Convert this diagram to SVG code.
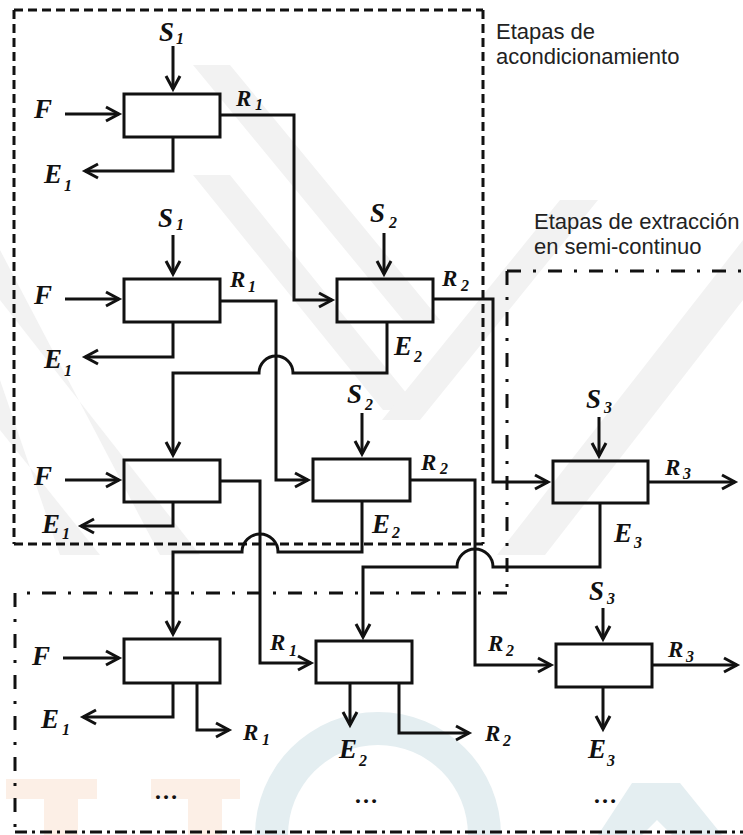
<svg xmlns="http://www.w3.org/2000/svg" width="743" height="835" viewBox="0 0 743 835">
  <style>
    .ln { fill: none; stroke: #111; stroke-width: 3; stroke-linejoin: miter; }
    .arr { marker-end: url(#arrow); }
    .box { fill: none; stroke: #111; stroke-width: 3; }
    .dash { fill: none; stroke: #111; stroke-width: 3; stroke-dasharray: 9 5; }
    .dashdot { fill: none; stroke: #111; stroke-width: 3; stroke-dasharray: 14 12 3 12; }
    .dashdot2 { fill: none; stroke: #111; stroke-width: 3; stroke-dasharray: 12 5 3 5; }
    .lbl { font-family: "Liberation Serif", "Times New Roman", serif; font-weight: bold; font-style: italic; font-size: 27px; fill: #111; }
    .r { font-size: 23px; }
    .sub { font-size: 16px; }
    .note { font-family: "Liberation Sans", Arial, sans-serif; font-size: 22px; fill: #222; }
    .dots { font-family: "Liberation Serif", "Times New Roman", serif; font-weight: bold; font-size: 24px; fill: #111; text-anchor: middle; }
  </style>
  <defs>
    <!-- open chevron arrowhead -->
    <marker id="arrow" markerUnits="userSpaceOnUse" viewBox="-16 -10 20 20" markerWidth="20" markerHeight="20" refX="0" refY="0" orient="auto">
      <path d="M-13,-7 L0,0 L-13,7" fill="none" stroke="#111" stroke-width="3" stroke-linejoin="miter"/>
    </marker>
  </defs>

  <rect width="743" height="835" fill="#fff"/>

  <!-- faint background watermark -->
  <g id="watermark">
    <g fill="#f2f2f2">
      <polygon points="193,65 230,65 440,320 403,320"/>
      <polygon points="193,175 230,175 420,410 383,410"/>
      <polygon points="0,250 0,300 200,555 160,555"/>
      <polygon points="0,380 0,430 100,555 60,555"/>
      <polygon points="560,200 598,200 420,420 382,420"/>
      <polygon points="743,240 743,300 545,555 497,555"/>
    </g>
    <g fill="#fcefe6">
      <rect x="6" y="779" width="91" height="20"/>
      <rect x="44" y="799" width="34" height="36"/>
      <rect x="151" y="779" width="89" height="20"/>
      <rect x="188" y="799" width="34" height="36"/>
    </g>
    <path d="M255,835 A123,123 0 0 1 501,835 L468,835 A90,90 0 0 0 288,835 Z" fill="#e4eef1"/>
    <path d="M598,835 L632,783 L680,783 L722,835 L672,835 L657,820 L642,835 Z" fill="#e4eef1"/>
  </g>

  <!-- conditioning stages: dashed enclosure -->
  <g id="region-conditioning">
    <path class="dash" d="M14,10 H483"/>
    <path class="dash" d="M14,10 V544"/>
    <path class="dash" d="M483,10 V544"/>
    <path class="dash" d="M14,544 H483"/>
    <text class="note" x="496" y="39">Etapas de</text>
    <text class="note" x="496" y="64">acondicionamiento</text>
  </g>

  <!-- semi-continuous extraction stages: dash-dot enclosure -->
  <g id="region-extraction">
    <path class="dashdot" d="M507,271 H743"/>
    <path class="dashdot" d="M507,271 V593"/>
    <path class="dashdot" d="M507,593 H15"/>
    <path class="dashdot" d="M15,593 V832"/>
    <path class="dashdot2" d="M15,832 H743"/>
    <text class="note" x="534" y="229">Etapas de extracción</text>
    <text class="note" x="534" y="254">en semi-continuo</text>
  </g>

  <!-- stage units -->
  <g id="stage-a1"><rect class="box" x="124" y="94" width="96" height="43"/></g>
  <g id="stage-a2"><rect class="box" x="124" y="279" width="96" height="43"/></g>
  <g id="stage-a3"><rect class="box" x="124" y="460" width="96" height="42"/></g>
  <g id="stage-a4"><rect class="box" x="124" y="639" width="96" height="44"/></g>
  <g id="stage-b1"><rect class="box" x="337" y="279" width="96" height="43"/></g>
  <g id="stage-b2"><rect class="box" x="313" y="459" width="97" height="42"/></g>
  <g id="stage-b3"><rect class="box" x="316" y="641" width="96" height="42"/></g>
  <g id="stage-c1"><rect class="box" x="553" y="461" width="95" height="42"/></g>
  <g id="stage-c2"><rect class="box" x="556" y="644" width="96" height="43"/></g>

  <!-- streams -->
  <g id="connectors">
    <!-- solvent feeds -->
    <path class="ln arr" d="M173,46 V89"/>
    <path class="ln arr" d="M173,235 V274"/>
    <path class="ln arr" d="M384,233 V274"/>
    <path class="ln arr" d="M362,413 V454"/>
    <path class="ln arr" d="M599,417 V456"/>
    <path class="ln arr" d="M603,608 V639"/>
    <!-- raw material feeds -->
    <path class="ln arr" d="M65,114 H119"/>
    <path class="ln arr" d="M65,299 H119"/>
    <path class="ln arr" d="M65,480 H119"/>
    <path class="ln arr" d="M63,658 H119"/>
    <!-- extract outputs -->
    <path class="ln arr" d="M173,137 V171 H85"/>
    <path class="ln arr" d="M173,322 V357 H85"/>
    <path class="ln arr" d="M173,502 V526 H81"/>
    <path class="ln arr" d="M173,683 V717 H83"/>
    <path class="ln arr" d="M350,683 V725"/>
    <path class="ln arr" d="M603,687 V729"/>
    <!-- raffinate transfers -->
    <path class="ln arr" d="M220,115 H294 V300 H332"/>
    <path class="ln arr" d="M220,301 H276 V480 H308"/>
    <path class="ln arr" d="M220,481 H260 V663 H311"/>
    <path class="ln arr" d="M433,299 H493 V482 H548"/>
    <path class="ln arr" d="M410,480 H475 V665 H551"/>
    <path class="ln arr" d="M648,482 H735"/>
    <path class="ln arr" d="M652,665 H737"/>
    <path class="ln arr" d="M197,683 V730 H229"/>
    <path class="ln arr" d="M399,683 V733 H469"/>
    <!-- extract recycles, with line hops -->
    <path class="ln arr" d="M387,322 V373 H293 A17,17 0 0 0 259,373 H173 V455"/>
    <path class="ln arr" d="M362,501 V552 H278 A18,18 0 0 0 242,552 H173 V634"/>
    <path class="ln arr" d="M600,503 V567 H493 A18,18 0 0 0 457,567 H363 V637"/>
  </g>

  <!-- stream labels -->
  <g id="labels">
    <text class="lbl" x="159" y="41">S<tspan class="sub" x="176" y="44">1</tspan></text>
    <text class="lbl" x="158" y="227">S<tspan class="sub" x="176" y="230">1</tspan></text>
    <text class="lbl" x="370" y="222">S<tspan class="sub" x="389" y="228">2</tspan></text>
    <text class="lbl" x="347" y="403">S<tspan class="sub" x="365" y="410">2</tspan></text>
    <text class="lbl" x="586" y="408">S<tspan class="sub" x="604" y="413">3</tspan></text>
    <text class="lbl" x="589" y="600">S<tspan class="sub" x="607" y="604">3</tspan></text>

    <text class="lbl" x="34" y="118">F</text>
    <text class="lbl" x="34" y="304">F</text>
    <text class="lbl" x="34" y="485">F</text>
    <text class="lbl" x="32" y="665">F</text>

    <text class="lbl" x="44" y="183">E<tspan class="sub" x="64" y="191">1</tspan></text>
    <text class="lbl" x="44" y="368">E<tspan class="sub" x="64" y="376">1</tspan></text>
    <text class="lbl" x="42" y="533">E<tspan class="sub" x="62" y="539">1</tspan></text>
    <text class="lbl" x="41" y="728">E<tspan class="sub" x="62" y="735">1</tspan></text>
    <text class="lbl" x="394" y="355">E<tspan class="sub" x="414" y="362">2</tspan></text>
    <text class="lbl" x="372" y="533">E<tspan class="sub" x="392" y="538">2</tspan></text>
    <text class="lbl" x="339" y="758">E<tspan class="sub" x="359" y="766">2</tspan></text>
    <text class="lbl" x="614" y="542">E<tspan class="sub" x="634" y="548">3</tspan></text>
    <text class="lbl" x="588" y="758">E<tspan class="sub" x="607" y="766">3</tspan></text>

    <text class="lbl r" x="236" y="106">R<tspan class="sub" x="255" y="110">1</tspan></text>
    <text class="lbl r" x="230" y="287">R<tspan class="sub" x="248" y="292">1</tspan></text>
    <text class="lbl r" x="270" y="650">R<tspan class="sub" x="289" y="656">1</tspan></text>
    <text class="lbl r" x="243" y="740">R<tspan class="sub" x="262" y="745">1</tspan></text>
    <text class="lbl r" x="442" y="286">R<tspan class="sub" x="461" y="291">2</tspan></text>
    <text class="lbl r" x="421" y="470">R<tspan class="sub" x="440" y="474">2</tspan></text>
    <text class="lbl r" x="488" y="651">R<tspan class="sub" x="506" y="656">2</tspan></text>
    <text class="lbl r" x="485" y="741">R<tspan class="sub" x="503" y="746">2</tspan></text>
    <text class="lbl r" x="665" y="475">R<tspan class="sub" x="683" y="479">3</tspan></text>
    <text class="lbl r" x="668" y="657">R<tspan class="sub" x="686" y="662">3</tspan></text>

    <text class="dots" x="166" y="799">…</text>
    <text class="dots" x="366" y="803">…</text>
    <text class="dots" x="605" y="803">…</text>
  </g>
</svg>
